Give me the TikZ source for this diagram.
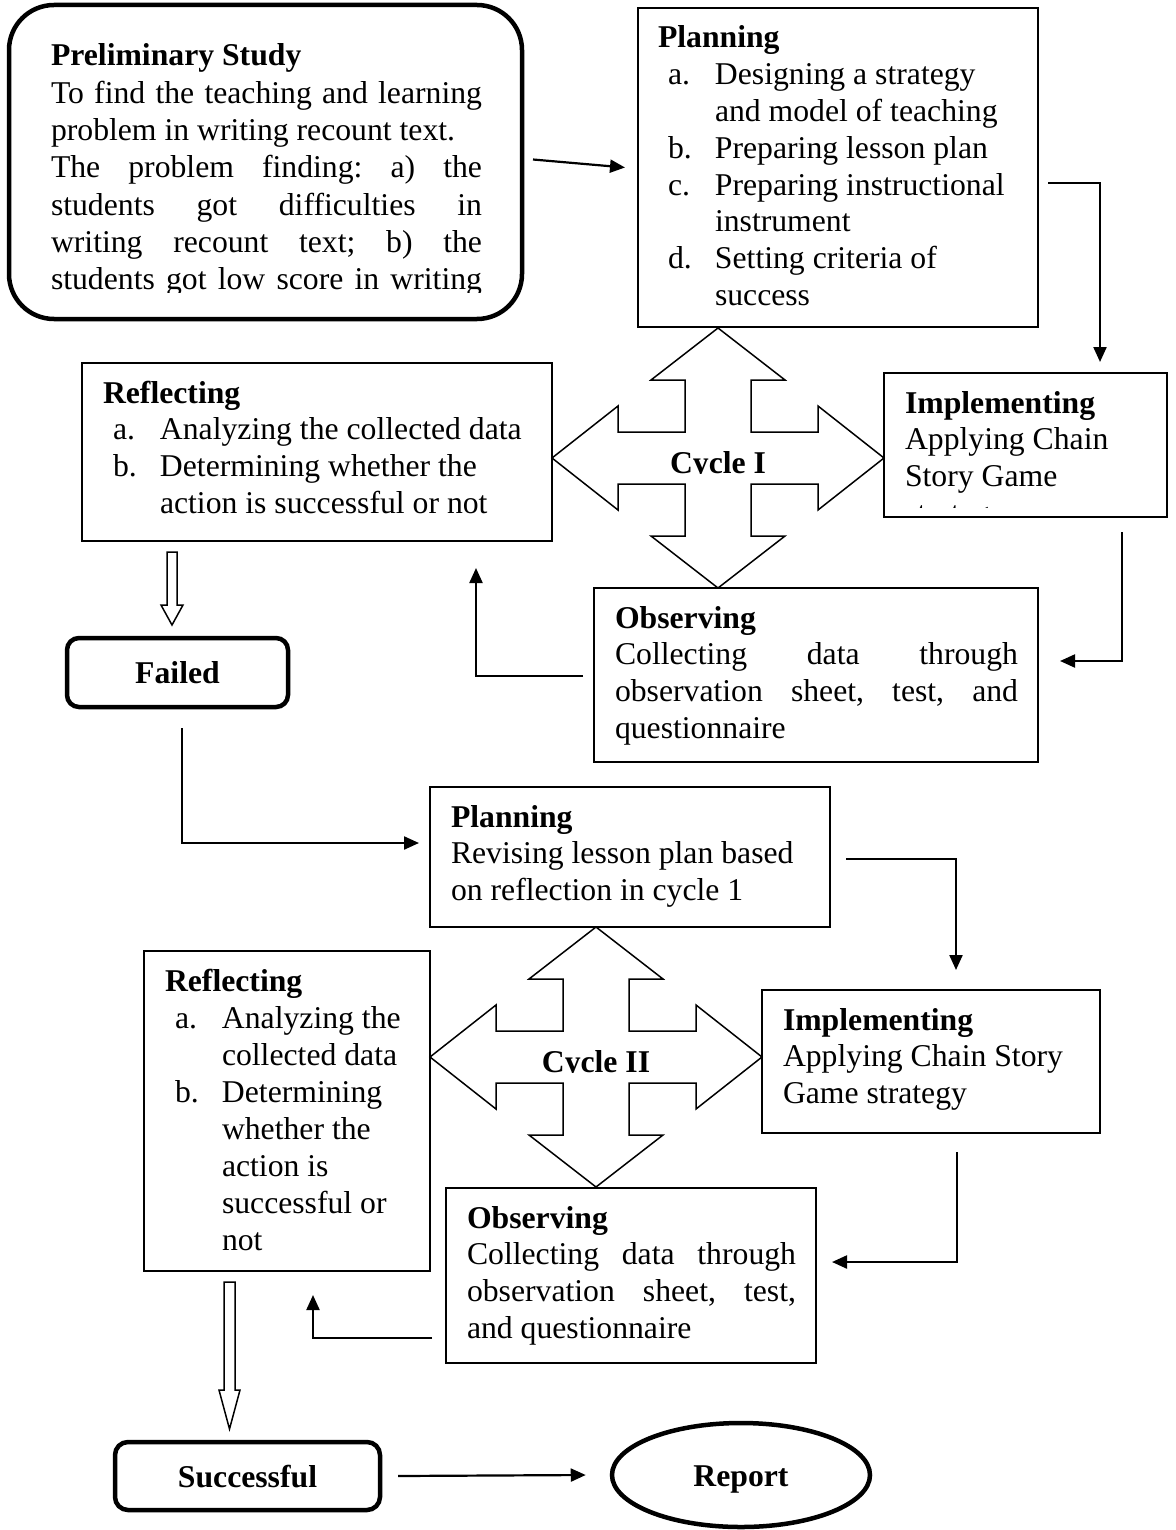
\documentclass[tikz,border=0pt]{standalone}
\usepackage{fontspec}
\setmainfont{Liberation Serif}
\usetikzlibrary{arrows.meta,calc,shapes.geometric}
\frenchspacing

\newcommand\jl[2]{\makebox[#1][s]{#2}}
\newcommand\itm[2]{\hspace*{10pt}\makebox[47pt][l]{#1}#2}
\newcommand\cnt[1]{\hspace*{57pt}#1}

\tikzset{
  quad/.pic={\path[crossline] (0,-130) -- (67,-78) -- (33,-78) -- (33,-26) -- (100,-26) -- (100,-52) -- (166,0) -- (100,52) -- (100,26) -- (33,26) -- (33,78) -- (67,78) -- (0,130) -- (-67,78) -- (-33,78) -- (-33,26) -- (-100,26) -- (-100,52) -- (-166,0) -- (-100,-52) -- (-100,-26) -- (-33,-26) -- (-33,-78) -- (-67,-78) -- cycle;}
}

\begin{document}
\begin{tikzpicture}[x=1pt,y=-1pt,
  box/.style={draw, line width=1.7pt, inner sep=0pt, outer sep=0pt, anchor=north west},
  rbox/.style={draw, line width=4.5pt, inner sep=0pt, outer sep=0pt, rounded corners=#1},
  txt/.style={inner sep=0pt, outer sep=0pt, anchor=base west, font=\fontsize{31.7}{36.8}\selectfont},
  conn/.style={line width=2.2pt, -{Triangle[length=15pt,width=13pt]}},
  crossline/.style={draw, line width=1.5pt, fill=white, line join=miter},
  hollow/.style={draw, line width=1.5pt, fill=white},
  lbl/.style={font=\fontsize{31.7}{36.8}\selectfont\bfseries, text height=22pt, text depth=0pt}
]
\useasboundingbox (0,0) rectangle (1175,1530);

% cross arrows
\pic at (718,458) {quad};
\pic at (596,1057) {quad};

% boxes
\node[rbox=45pt, anchor=north west, minimum width=513pt, minimum height=314pt] (prelim) at (9,5) {};
\node[box, minimum width=400pt, minimum height=319pt] (planA) at (638,8) {};
\node[box, minimum width=283pt, minimum height=144pt] (implA) at (884,373) {};
\node[box, minimum width=470pt, minimum height=178pt] (reflA) at (82,363) {};
\node[box, minimum width=444pt, minimum height=174pt] (obsA) at (594,588) {};
\node[rbox=12pt, lbl, minimum width=221pt, minimum height=69pt] (failed) at (177.5,672.5) {Failed};
\node[box, minimum width=400pt, minimum height=140pt] (planB) at (430,787) {};
\node[box, minimum width=338pt, minimum height=143pt] (implB) at (762,990) {};
\node[box, minimum width=286pt, minimum height=320pt] (reflB) at (144,951) {};
\node[box, minimum width=370pt, minimum height=175pt] (obsB) at (446,1188) {};
\node[rbox=13pt, lbl, minimum width=265pt, minimum height=68pt] (succ) at (247.5,1476) {Successful};
\node[draw, ellipse, line width=4.5pt, lbl, inner sep=0pt, minimum width=258pt, minimum height=104pt] (report) at (741,1475) {Report};

% cycle labels (clipped as in the picture)
\begin{scope}
\clip (600,400) rectangle (840,473.5);
\node[inner sep=0pt, anchor=base, font=\fontsize{31.7}{36.8}\selectfont\bfseries] (cyc1) at (718,473) {Cycle I};
\end{scope}
\begin{scope}
\clip (480,1000) rectangle (720,1072.5);
\node[inner sep=0pt, anchor=base, font=\fontsize{31.7}{36.8}\selectfont\bfseries] (cyc2) at (596,1072) {Cycle II};
\end{scope}

% texts
\begin{scope}
\clip (0,0) rectangle (1175,292);
\node[txt, font=\fontsize{31.7}{37.3}\selectfont] (prelimt) at (51,66) {\begin{tabular}[t]{@{}l@{}}
\textbf{Preliminary Study}\\
\jl{431pt}{To find the teaching and learning}\\
problem in writing recount text.\\
\jl{431pt}{The problem finding: a) the}\\
\jl{431pt}{students got difficulties in}\\
\jl{431pt}{writing recount text; b) the}\\
\jl{431pt}{students got low score in writing}
\end{tabular}};
\end{scope}

\node[txt] (planAt) at (658,48) {\begin{tabular}[t]{@{}l@{}}
\textbf{Planning}\\
\itm{a.}{Designing a strategy}\\
\cnt{and model of teaching}\\
\itm{b.}{Preparing lesson plan}\\
\itm{c.}{Preparing instructional}\\
\cnt{instrument}\\
\itm{d.}{Setting criteria of}\\
\cnt{success}
\end{tabular}};

\begin{scope}
\clip (884,373) rectangle (1167,507);
\node[txt] (implAt) at (905,413) {\begin{tabular}[t]{@{}l@{}}
\textbf{Implementing}\\
Applying Chain\\
Story Game\\
strategy
\end{tabular}};
\end{scope}

\node[txt] (reflAt) at (103,403) {\begin{tabular}[t]{@{}l@{}}
\textbf{Reflecting}\\
\itm{a.}{Analyzing the collected data}\\
\itm{b.}{Determining whether the}\\
\cnt{action is successful or not}
\end{tabular}};

\node[txt] (obsAt) at (615,628) {\begin{tabular}[t]{@{}l@{}}
\textbf{Observing}\\
\jl{403pt}{Collecting data through}\\
\jl{403pt}{observation sheet, test, and}\\
questionnaire
\end{tabular}};

\node[txt] (planBt) at (451,827) {\begin{tabular}[t]{@{}l@{}}
\textbf{Planning}\\
Revising lesson plan based\\
on reflection in cycle 1
\end{tabular}};

\node[txt] (implBt) at (783,1030) {\begin{tabular}[t]{@{}l@{}}
\textbf{Implementing}\\
Applying Chain Story\\
Game strategy
\end{tabular}};

\node[txt, font=\fontsize{31.7}{37.1}\selectfont] (reflBt) at (165,991) {\begin{tabular}[t]{@{}l@{}}
\textbf{Reflecting}\\
\itm{a.}{Analyzing the}\\
\cnt{collected data}\\
\itm{b.}{Determining}\\
\cnt{whether the}\\
\cnt{action is}\\
\cnt{successful or}\\
\cnt{not}
\end{tabular}};

\node[txt] (obsBt) at (467,1228) {\begin{tabular}[t]{@{}l@{}}
\textbf{Observing}\\
\jl{329pt}{Collecting data through}\\
\jl{329pt}{observation sheet, test,}\\
and questionnaire
\end{tabular}};

% hollow arrows
\path[hollow] (167,552) -- (177,552) -- (177,605) -- (183,605) -- (172,625) -- (161,605) -- (167,605) -- cycle;
\path[hollow] (224,1282) -- (235,1282) -- (235,1390) -- (240,1390) -- (229.5,1429) -- (219,1390) -- (224,1390) -- cycle;

% connectors
\draw[conn] ($(prelim.east)+(11,-2.5)$) -- ($(planA.west)+(-13,0)$);
\draw[conn] ($(planA.north east)+(10,175)$) -| ($(implA.north west)+(216,-11)$);
\draw[conn] ($(implA.south east)+(-45,15)$) |- ($(obsA.north east)+(22,73)$);
\draw[conn] ($(obsA.north west)+(-11,88)$) -| ($(reflA.south west)+(394,27)$);
\draw[conn] ($(failed.south west)+(115,21)$) |- ($(planB.north west)+(-11,56)$);
\draw[conn] ($(planB.north east)+(16,72)$) -| ($(implB.north west)+(194,-20)$);
\draw[conn] ($(implB.south east)+(-143,19)$) |- ($(obsB.north east)+(16,74)$);
\draw[conn] ($(obsB.north west)+(-14,150)$) -| ($(reflB.south west)+(169,24)$);
\draw[conn] ($(succ.east)+(18,0)$) -- ($(report.west)+(-24,0)$);
\end{tikzpicture}
\end{document}
